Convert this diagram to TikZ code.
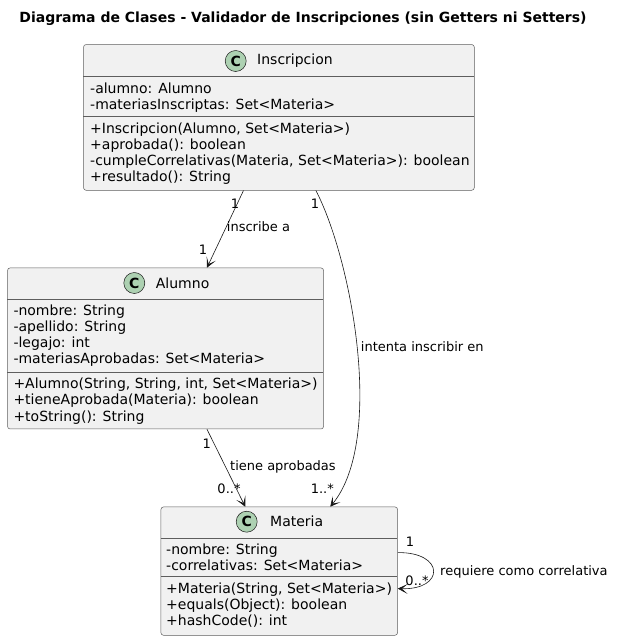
\documentclass[tikz,border=0pt]{standalone}
\usepackage{fontspec}
\setmainfont{DejaVu Sans}
\usetikzlibrary{arrows.meta}
\definecolor{umlfill}{HTML}{F1F1F1}
\definecolor{umlline}{HTML}{181818}
\definecolor{umlborder}{HTML}{5E5E5E}
\definecolor{umlcirc}{HTML}{ADD1B2}
\tikzset{
  classbox/.style={draw=umlborder,line width=0.5pt,fill=umlfill,rounded corners=2.5pt,
    anchor=north west,inner sep=0pt},
  sepline/.style={draw=umlborder,line width=0.5pt},
  cbadge/.style={circle,draw=umlline,line width=0.5pt,fill=umlcirc,minimum size=21pt,
    inner sep=0pt,font=\fontsize{14}{16}\selectfont\bfseries},
  cname/.style={anchor=west,inner sep=0pt,font=\fontsize{14}{16}\selectfont},
  member/.style={anchor=west,inner sep=0pt,font=\fontsize{14}{16}\selectfont,
    text height=11pt,text depth=3pt},
  elabel/.style={inner sep=0pt,font=\fontsize{13}{15}\selectfont,text height=10pt,text depth=3pt},
  assoc/.style={draw=umlline,line width=0.6pt,
    -{Stealth[length=10pt,width=10pt,inset=6pt]}}
}
\begin{document}
\begin{tikzpicture}[x=1pt,y=-1pt]
  \fill[white] (0,0) rectangle (619,641);
  \useasboundingbox (0,0) rectangle (619,641);

  \node[font=\fontsize{14}{16}\selectfont\bfseries,inner sep=0pt] (title) at (303,18.5)
    {Diagrama de Clases - Validador de Inscripciones (sin Getters ni Setters)};

  % Inscripcion
  \node[classbox,minimum width=390.7pt,minimum height=145.7pt] (ins) at (83.3,44.3) {};
  \draw[sepline] (83.3,76.7) -- (474,76.7) (83.3,116) -- (474,116);
  \node[cbadge] (insC) at (235.7,61) {C};
  \node[cname] (insN) at (257,61) {Inscripcion};
  \foreach \m [count=\i] in {{-alumno: Alumno},{-materiasInscriptas: Set<Materia>}}
    \node[member] (insA\i) at (90,89+16.5*\i-16.5) {\m};
  \foreach \m [count=\i] in {{+Inscripcion(Alumno, Set<Materia>)},{+aprobada(): boolean},
      {-cumpleCorrelativas(Materia, Set<Materia>): boolean},{+resultado(): String}}
    \node[member] (insM\i) at (90,129+16*\i-16) {\m};

  % Alumno
  \node[classbox,minimum width=316pt,minimum height=161pt] (alu) at (7.3,267.7) {};
  \draw[sepline] (7.3,299) -- (323.3,299) (7.3,372) -- (323.3,372);
  \node[cbadge] (aluC) at (134.3,283) {C};
  \node[cname] (aluN) at (155.7,283) {Alumno};
  \foreach \m [count=\i] in {{-nombre: String},{-apellido: String},{-legajo: int},
      {-materiasAprobadas: Set<Materia>}}
    \node[member] (aluA\i) at (13.3,311+16.3*\i-16.3) {\m};
  \foreach \m [count=\i] in {{+Alumno(String, String, int, Set<Materia>)},
      {+tieneAprobada(Materia): boolean},{+toString(): String}}
    \node[member] (aluM\i) at (13.3,384+16.5*\i-16.5) {\m};

  % Materia
  \node[classbox,minimum width=236.6pt,minimum height=128.3pt] (mat) at (160.7,506.7) {};
  \draw[sepline] (160.7,538.3) -- (397.3,538.3) (160.7,576.7) -- (397.3,576.7);
  \node[cbadge] (matC) at (246.7,521.7) {C};
  \node[cname] (matN) at (270,521.7) {Materia};
  \foreach \m [count=\i] in {{-nombre: String},{-correlativas: Set<Materia>}}
    \node[member] (matA\i) at (166,550.7+16*\i-16) {\m};
  \foreach \m [count=\i] in {{+Materia(String, Set<Materia>)},{+equals(Object): boolean},
      {+hashCode(): int}}
    \node[member] (matM\i) at (166,589+16.3*\i-16.3) {\m};

  % associations
  \draw[assoc] ([xshift=-35.4pt]ins.south) -- ([xshift=41.4pt]alu.north);
  \draw[assoc] ([xshift=37pt]ins.south) .. controls (352,260) and (385,440)
    .. ([xshift=51pt]mat.north);
  \draw[assoc] ([xshift=41.4pt]alu.south) -- ([xshift=-34pt]mat.north);
  \draw[assoc] ([yshift=18.5pt]mat.east) .. controls (445,552) and (445,590)
    .. ([yshift=-17.5pt]mat.east);

  % labels
  \node[elabel] (insAluM1) at (235,205) {1};
  \node[elabel,anchor=west] (insAluL) at (226.7,228) {inscribe a};
  \node[elabel] (insAluM2) at (203,251) {1};
  \node[elabel] (insMatM1) at (315,205) {1};
  \node[elabel,anchor=west] (insMatL) at (360.7,348) {intenta inscribir en};
  \node[elabel] (insMatM2) at (322.3,490) {1..*};
  \node[elabel] (aluMatM1) at (206.7,445) {1};
  \node[elabel,anchor=west] (aluMatL) at (230,467) {tiene aprobadas};
  \node[elabel] (aluMatM2) at (229,490) {0..*};
  \node[elabel] (matMatM1) at (410,543.3) {1};
  \node[elabel] (matMatM2) at (417,581.7) {0..*};
  \node[elabel,anchor=west] (matMatL) at (440,571.7) {requiere como correlativa};
\end{tikzpicture}
\end{document}
